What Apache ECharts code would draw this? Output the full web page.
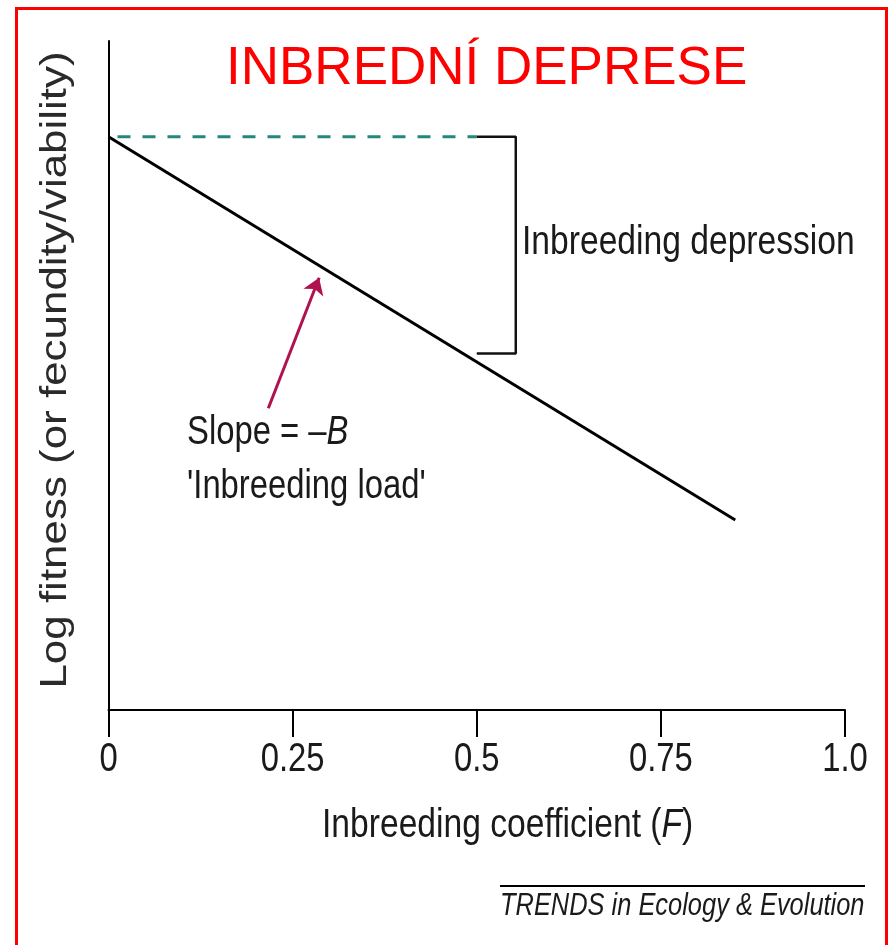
<!DOCTYPE html>
<html>
<head>
<meta charset="utf-8">
<script src="https://cdn.jsdelivr.net/npm/echarts@6/dist/echarts.min.js"></script>
<style>
  html, body { margin: 0; padding: 0; background: #fff; }
  #chart { width: 892px; height: 945px; }
</style>
</head>
<body>
<div id="chart"></div>
<script>
// axis ticks
var fTicks = [0, 0.25, 0.5, 0.75, 1.0];
var fTickLabels = ['0', '0.25', '0.5', '0.75', '1.0'];

// log fitness falls linearly with F
var fitF = [0, 0.851];
var fitLog = [0.857, 0.284];

// outbred reference level (dashed)
var baseF = [0, 0.5];
var baseLog = [0.857, 0.857];

// bracket showing the depression at F = 0.5
var bracketF = [0.5, 0.553, 0.553, 0.5];
var bracketLog = [0.857, 0.857, 0.533, 0.533];

// arrow pointing at the slope
var arrowF = [0.217, 0.286];
var arrowLog = [0.451, 0.646];

function zip(a, b) {
  return a.map(function (v, i) { return [v, b[i]]; });
}

var SANS = '"Liberation Sans", Arial, sans-serif';
var INK = '#1a1a1a';
var NARROW_SCALE = 0.82;   // no Arial Narrow here, so squeeze Liberation Sans

var chart = echarts.init(document.getElementById('chart'));

function narrowText(x, y, text, size, extra) {
  var st = {
    text: text,
    fontSize: size,
    fontFamily: SANS,
    fill: INK,
    align: 'left',
    verticalAlign: 'middle',
    rich: {
      i: { fontSize: size, fontFamily: SANS, fontStyle: 'italic', fill: INK }
    }
  };
  if (extra) for (var k in extra) st[k] = extra[k];
  return { type: 'text', x: x, y: y, scaleX: NARROW_SCALE, style: st, silent: true };
}

var graphics = [
  {
    type: 'rect',
    shape: { x: 16.5, y: 8.5, width: 870, height: 1000 },
    style: { fill: 'none', stroke: '#ff0000', lineWidth: 3 },
    silent: true
  },
  {
    type: 'text',
    x: 226,
    y: 69,
    style: {
      text: 'INBREDNÍ DEPRESE',
      fontSize: 53,
      fontFamily: SANS,
      fill: '#ff0000',
      align: 'left',
      verticalAlign: 'middle'
    },
    silent: true
  },
  {
    type: 'text',
    x: 56,
    y: 370,
    rotation: Math.PI / 2,
    scaleX: 1.22,
    style: {
      text: 'Log fitness (or fecundity/viability)',
      fontSize: 36,
      fontFamily: SANS,
      fill: '#2a2a2a',
      align: 'center',
      verticalAlign: 'middle'
    },
    silent: true
  },
  narrowText(522, 243, 'Inbreeding depression', 41),
  narrowText(187, 433, 'Slope = \u2013{i|B}', 40),
  narrowText(187, 487, '\'Inbreeding load\'', 40),
  narrowText(322, 826, 'Inbreeding coefficient ({i|F})', 41),
  narrowText(500, 906, 'TRENDS in Ecology & Evolution', 31, { fontStyle: 'italic' }),
  {
    type: 'line',
    shape: { x1: 500, y1: 886, x2: 865, y2: 886 },
    style: { stroke: '#000', lineWidth: 2 },
    silent: true
  }
];

var option = {
  backgroundColor: '#fff',
  animation: false,
  grid: { left: 108.5, right: 47, top: 41, bottom: 235 },
  xAxis: {
    type: 'value',
    min: 0,
    max: 1,
    interval: 0.25,
    axisLine: { lineStyle: { color: '#000', width: 2 } },
    axisTick: { length: 27, lineStyle: { color: '#000', width: 2 } },
    // labels drawn below as squeezed text at the axis' own tick positions
    axisLabel: { show: false },
    splitLine: { show: false }
  },
  yAxis: {
    type: 'value',
    min: 0,
    max: 1,
    axisLine: { show: true, lineStyle: { color: '#000', width: 2 } },
    axisTick: { show: false },
    axisLabel: { show: false },
    splitLine: { show: false }
  },
  series: [
    {
      type: 'line',
      data: zip(baseF, baseLog),
      symbol: 'none',
      lineStyle: { color: '#23877b', width: 3, type: [13, 12], dashOffset: 16 }
    },
    {
      type: 'line',
      data: zip(fitF, fitLog),
      symbol: 'none',
      lineStyle: { color: '#000', width: 3 }
    },
    {
      type: 'line',
      data: zip(bracketF, bracketLog),
      symbol: 'none',
      lineStyle: { color: '#111', width: 2.5 }
    },
    {
      type: 'lines',
      coordinateSystem: 'cartesian2d',
      data: [{ coords: zip(arrowF, arrowLog) }],
      symbol: ['none', 'arrow'],
      symbolSize: 16,
      lineStyle: { color: '#b0124f', width: 3, opacity: 1 }
    }
  ],
  graphic: graphics
};

chart.setOption(option);

// tick labels placed through the x axis scale
fTicks.forEach(function (v, i) {
  var px = chart.convertToPixel({ xAxisIndex: 0 }, v);
  var py = chart.convertToPixel({ yAxisIndex: 0 }, 0);
  var lbl = narrowText(0, py + 50, fTickLabels[i], 40, { align: 'center' });
  lbl.x = px;
  graphics.push(lbl);
});
chart.setOption({ graphic: graphics });
</script>
</body>
</html>
